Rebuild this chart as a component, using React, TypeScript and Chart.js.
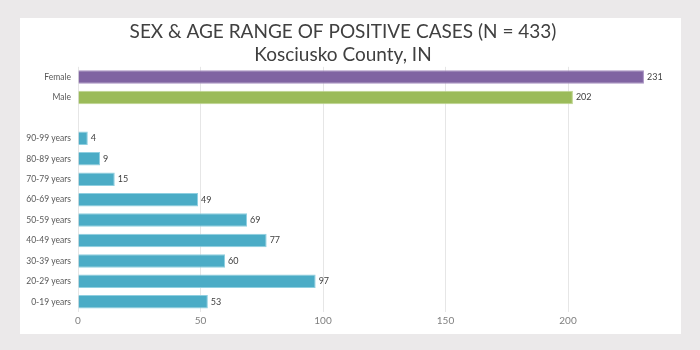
import React, { useEffect, useRef } from "react";
import { Chart, registerables } from "chart.js";

Chart.register(...registerables);

const titleLines = ["SEX & AGE RANGE OF POSITIVE CASES (N = 433)", "Kosciusko County, IN"];
const categories = [
  "Female",
  "Male",
  "",
  "90-99 years",
  "80-89 years",
  "70-79 years",
  "60-69 years",
  "50-59 years",
  "40-49 years",
  "30-39 years",
  "20-29 years",
  "0-19 years",
];
const values: (number | null)[] = [231, 202, null, 4, 9, 15, 49, 69, 77, 60, 97, 53];
const xTicks = [0, 50, 100, 150, 200];

const PURPLE = "#8064a2";
const GREEN = "#9bbb59";
const TEAL = "#4bacc6";
const FONT = "Lato, 'Open Sans', sans-serif";

const barColors = categories.map((c) => (c === "Female" ? PURPLE : c === "Male" ? GREEN : TEAL));
const borderColors = categories.map((c) => (c === "Female" ? "#a892c2" : c === "Male" ? "#bdd48e" : "#8fcfe0"));

const labelPlugin = {
  id: "valueLabels",
  afterDatasetsDraw(chart: any) {
    const ctx = chart.ctx;
    const meta = chart.getDatasetMeta(0);
    ctx.save();
    ctx.font = `9px ${FONT}`;
    ctx.fillStyle = "#404040";
    ctx.textAlign = "left";
    ctx.textBaseline = "middle";
    meta.data.forEach((el: any, i: number) => {
      const v = values[i];
      if (v == null) return;
      ctx.fillText(String(v), el.x + 3, el.y);
    });
    ctx.restore();
  },
};

export default function App() {
  const ref = useRef<HTMLCanvasElement>(null);
  useEffect(() => {
    if (!ref.current) return;
    const chart = new Chart(ref.current, {
      type: "bar",
      data: {
        labels: categories,
        datasets: [
          {
            data: values,
            backgroundColor: barColors,
            borderColor: borderColors,
            borderWidth: 1,
            categoryPercentage: 1,
            barPercentage: 0.66,
          },
        ],
      },
      options: {
        indexAxis: "y",
        animation: false,
        responsive: false,
        maintainAspectRatio: false,
        layout: { padding: { top: 3, right: 15, bottom: 4, left: 0 } },
        plugins: {
          legend: { display: false },
          tooltip: { enabled: false },
          title: {
            display: true,
            text: titleLines,
            color: "#404040",
            font: { family: FONT, size: 19, weight: "normal", lineHeight: 1.18 },
            padding: { top: 0, bottom: 1 },
          },
        },
        scales: {
          x: {
            min: 0,
            max: 240,
            afterBuildTicks: (axis: any) => {
              axis.ticks = xTicks.map((v) => ({ value: v }));
            },
            grid: { color: "#e6e6e6", drawTicks: false },
            border: { display: false },
            ticks: { color: "#7f7f7f", font: { family: FONT, size: 10 }, padding: 3 },
          },
          y: {
            afterFit: (axis: any) => {
              axis.width = 58;
            },
            grid: { display: false, drawTicks: false },
            border: { display: false },
            ticks: { color: "#595959", font: { family: FONT, size: 8.5 }, padding: 7, autoSkip: false },
          },
        },
      },
      plugins: [labelPlugin],
    });
    return () => chart.destroy();
  }, []);

  return (
    <div style={{ position: "fixed", left: 0, top: 0, width: 700, height: 350, background: "#ebe9ea" }}>
      <div style={{ position: "absolute", left: 20, top: 18, width: 661, height: 316, background: "#ffffff" }}>
        <canvas ref={ref} width={661} height={316} style={{ display: "block" }} />
      </div>
    </div>
  );
}
